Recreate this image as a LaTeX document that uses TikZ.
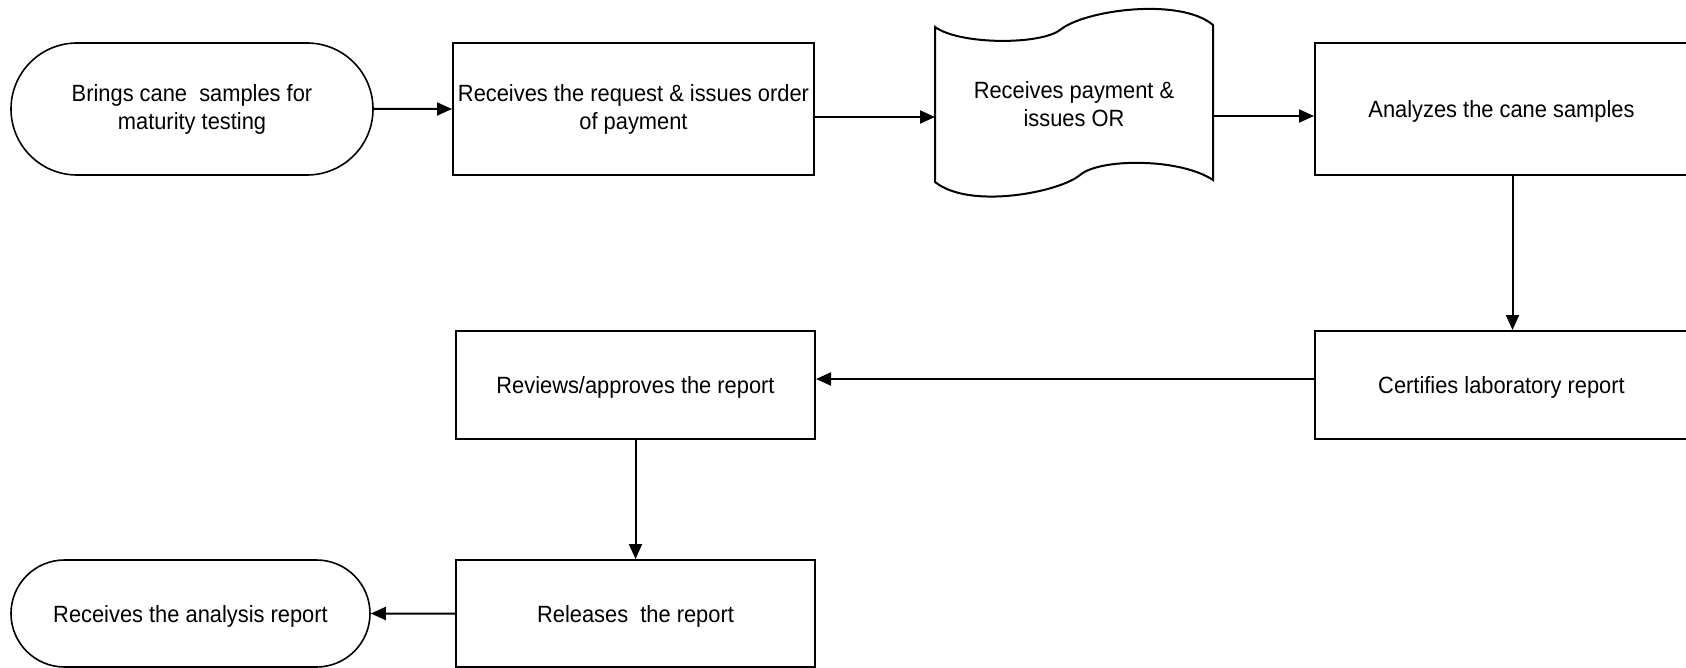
\documentclass[tikz,border=0pt]{standalone}
\usepackage{fontspec}
\setmainfont{Liberation Sans}[FakeStretch=0.93]
\usetikzlibrary{shapes.misc,arrows.meta}

\begin{document}
\begin{tikzpicture}[x=1pt,y=-1pt,line width=2pt,
	every node/.style={font=\fontsize{23.5}{28}\selectfont,align=center,inner sep=0pt},
	box/.style={draw,rectangle,minimum height=132pt},
	term/.style={draw,rounded rectangle,line width=1.6pt},
	one/.style={text depth=0pt},
	arr/.style={-{Triangle[length=15pt,width=13pt]}}]
	\useasboundingbox (0,0) rectangle (1686,668);
			 \node[term,minimum width=362pt,minimum height=132pt] (brings)at(192,109) {Brings cane\ \ samples for\\maturity testing};
			 \node[box,minimum width=361pt] (request)at(633.5,109) {Receives the request \& issues order\\of payment};
			 \node (payment)at(1074,104) {Receives payment \&\\issues OR};
			 \node[box,one,minimum width=373pt] (analyze)at(1501.5,109) {Analyzes the cane samples};
			 \node[box,one,minimum width=373pt,minimum height=108pt] (certify)at(1501.5,385) {Certifies laboratory report};
			 \node[box,one,minimum width=359pt,minimum height=108pt] (review)at(635.5,385) {Reviews/approves the report};
			 \node[box,one,minimum width=359pt,minimum height=107pt] (release)at(635.5,613.5) {Releases\ \ the report};
			 \node[term,one,minimum width=359pt,minimum height=107pt] (receive)at(190.5,613.5) {Receives the analysis report};
			 % wavy outline round the payment node
			 \draw (935,182) -- (935,27) .. controls (960,45) and (1040,45) .. (1060,30) .. controls (1084,10) and (1180,-3) .. (1213,25) -- (1213,180) .. controls (1180,158) and (1100,158) .. (1080,175) .. controls (1060,192) and (970,210) .. (935,182) -- cycle;
			 \coordinate (payin)at(935,117);
			 \coordinate (payout)at(1213,116);
			 \draw[arr] (brings) -- (request);
			 \draw[arr] (request.east |- payin) -- (payin);
			 \draw[arr] (payout) -- (analyze.west |- payout);
			 \draw[arr] ([xshift=11pt]analyze.south) -- ([xshift=11pt]certify.north);
			 \draw[arr] ([yshift=6pt]certify.west) -- ([yshift=6pt]review.east);
			 \draw[arr] (review) -- (release);
			 \draw[arr] (release) -- (receive);
\end{tikzpicture}
\end{document}
